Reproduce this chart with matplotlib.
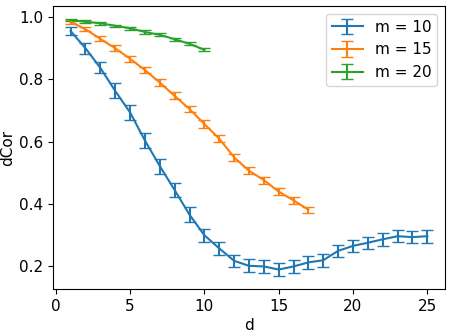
import numpy as np
import matplotlib.pyplot as plt

# valeurs
d10 = np.arange(1, 26)
cor10 = [0.955, 0.90, 0.837, 0.763, 0.694, 0.604, 0.522, 0.445, 0.366, 0.30,
         0.258, 0.218, 0.202, 0.20, 0.19, 0.20, 0.213, 0.22, 0.25, 0.266,
         0.276, 0.287, 0.297, 0.294, 0.297]
err10 = [0.014, 0.017, 0.018, 0.024, 0.024, 0.023, 0.024, 0.023, 0.024, 0.021,
         0.02, 0.02, 0.021, 0.02, 0.021, 0.02, 0.02, 0.021, 0.02, 0.02,
         0.02, 0.02, 0.02, 0.02, 0.021]

d15 = np.arange(1, 18)
cor15 = [0.985, 0.961, 0.93, 0.90, 0.866, 0.83, 0.79, 0.747, 0.705, 0.657,
         0.61, 0.55, 0.507, 0.477, 0.44, 0.412, 0.382]
err15 = [0.006, 0.007, 0.008, 0.009, 0.01, 0.01, 0.011, 0.011, 0.011, 0.012,
         0.012, 0.012, 0.011, 0.011, 0.011, 0.011, 0.01]

d20 = np.arange(1, 11)
cor20 = [0.99, 0.985, 0.98, 0.972, 0.964, 0.952, 0.943, 0.929, 0.914, 0.895]
err20 = [0.004, 0.004, 0.004, 0.004, 0.005, 0.005, 0.005, 0.005, 0.005, 0.005]

labels = ["m = 10", "m = 15", "m = 20"]

fig = plt.figure(figsize=(4.51, 3.36), dpi=100)
ax = fig.add_axes([0.117, 0.14, 0.870, 0.842])

for d, c, e, lab in zip([d10, d15, d20], [cor10, cor15, cor20],
                        [err10, err15, err20], labels):
    ax.errorbar(d, c, yerr=e, capsize=4, label=lab)

ax.set_xlabel("d", fontsize=11, labelpad=3)
ax.set_ylabel("dCor", fontsize=11, labelpad=3)
ax.tick_params(labelsize=11)
ax.legend(loc="upper right", fontsize=11)

fig.savefig("out.png", dpi=100)
